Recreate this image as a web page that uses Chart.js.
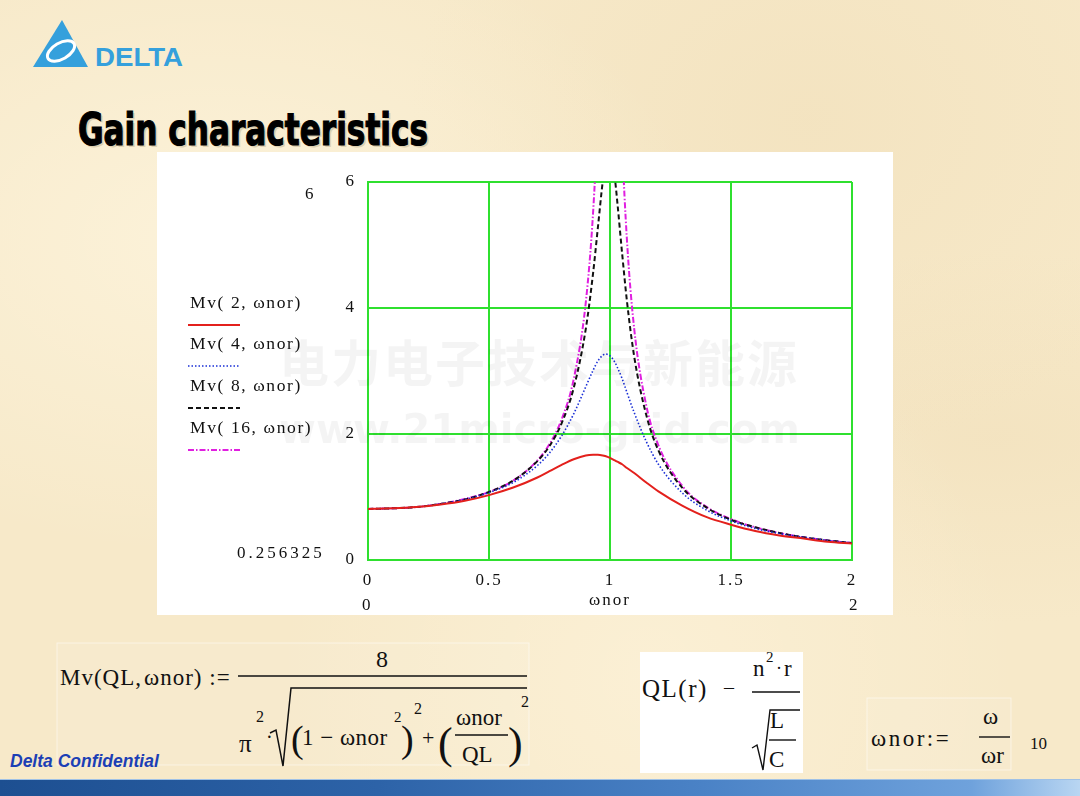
<!DOCTYPE html>
<html>
<head>
<meta charset="utf-8">
<script src="https://cdn.jsdelivr.net/npm/chart.js@4.4.1/dist/chart.umd.min.js"></script>
<style>
  html, body { margin: 0; padding: 0; }
  body {
    width: 1080px; height: 796px; position: relative; overflow: hidden;
    background-color: #f7e9c9;
    background-image:
      radial-gradient(ellipse at 20% 30%, rgba(255,248,228,0.6), rgba(255,248,228,0) 40%),
      radial-gradient(ellipse at 75% 15%, rgba(240,222,184,0.5), rgba(240,222,184,0) 35%),
      radial-gradient(ellipse at 60% 85%, rgba(255,246,224,0.5), rgba(255,246,224,0) 40%),
      radial-gradient(ellipse at 92% 55%, rgba(240,222,184,0.5), rgba(240,222,184,0) 30%);
    font-family: "Liberation Serif", serif;
  }
  #box { position: absolute; left: 157px; top: 152px; width: 736px; height: 463px; background: #fff; }
  #wrap { position: absolute; left: 0; top: 0; width: 736px; height: 463px; }
  .lbl { position: absolute; font-family: "Liberation Serif", serif; font-size: 17px; color: #111; white-space: nowrap; }
  .leg { letter-spacing: 1.6px; font-size: 17.5px; }
  .mark { position: absolute; pointer-events: none; font-weight: bold; color: rgba(0,0,0,0.045); white-space: nowrap; }
  #deco { position: absolute; left: 0; top: 0; }
  #bar { position: absolute; left: 0; top: 779px; width: 1080px; height: 17px;
    background: linear-gradient(90deg, #1d4f91 0%, #2d63a8 35%, #4a82c6 65%, #6fa2dc 90%, #b9d6f2 100%);
    border-top: 1px solid #9fc1e6; }
</style>
</head>
<body>
<svg id="deco" width="1080" height="796" xmlns="http://www.w3.org/2000/svg">
  <!-- logo -->
  <polygon points="62,20 33,67 88,67" fill="#35a0dc"/>
  <ellipse cx="61" cy="51" rx="15" ry="8" fill="none" stroke="#fff" stroke-width="3" transform="rotate(-30 61 51)"/>
  <text x="95" y="66" font-family="Liberation Sans, Arial" font-weight="bold" font-size="26" fill="#35a0dc" textLength="88" lengthAdjust="spacingAndGlyphs">DELTA</text>
  <!-- title -->
  <text x="80" y="147" font-family="Liberation Sans Narrow, DejaVu Sans Condensed, sans-serif" font-weight="bold" font-size="45" fill="#ddd0b0" textLength="350" lengthAdjust="spacingAndGlyphs">Gain characteristics</text>
  <text x="78" y="145" font-family="Liberation Sans Narrow, DejaVu Sans Condensed, sans-serif" font-weight="bold" font-size="45" fill="#000" stroke="#000" stroke-width="1.2" textLength="350" lengthAdjust="spacingAndGlyphs">Gain characteristics</text>

  <!-- formula 1 -->
  <rect x="57" y="643" width="472" height="122" fill="rgba(255,255,255,0.08)" stroke="rgba(255,255,255,0.5)" stroke-width="1"/>
  <g font-family="Liberation Serif, serif" fill="#111">
    <text x="60" y="685" font-size="23" style="letter-spacing:1px">Mv(QL,<tspan dx="2">ωnor)</tspan> :=</text>
    <text x="376" y="667" font-size="24">8</text>
    <line x1="238" y1="676" x2="527" y2="676" stroke="#111" stroke-width="1.6"/>
    <text x="239" y="752" font-size="25">π</text>
    <text x="256" y="722" font-size="16">2</text>
    <text x="266" y="744" font-size="20">·</text>
    <path d="M270 733 L276 730 L283 766 L291 688 L527 688" fill="none" stroke="#111" stroke-width="1.5"/>
    <text x="291" y="752" font-size="38">(</text>
    <text x="302" y="745" font-size="23" style="letter-spacing:0.5px">1 − ωnor</text>
    <text x="394" y="722" font-size="15">2</text>
    <text x="401" y="752" font-size="38">)</text>
    <text x="414" y="714" font-size="16">2</text>
    <text x="422" y="745" font-size="22">+</text>
    <text x="438" y="758" font-size="44">(</text>
    <text x="456" y="725" font-size="23">ωnor</text>
    <line x1="455" y1="735" x2="508" y2="735" stroke="#111" stroke-width="1.4"/>
    <text x="462" y="762" font-size="23">QL</text>
    <text x="508" y="758" font-size="44">)</text>
    <text x="521" y="707" font-size="16">2</text>
  </g>

  <!-- formula 2 -->
  <rect x="640" y="652" width="163" height="121" fill="#fff"/>
  <g font-family="Liberation Serif, serif" fill="#111">
    <text x="642" y="697" font-size="25" style="letter-spacing:1.5px">QL(r)</text>
    <text x="724" y="694" font-size="20">–</text>
    <text x="753" y="676" font-size="23">n</text>
    <text x="766" y="662" font-size="15">2</text>
    <text x="776" y="674" font-size="18">·</text>
    <text x="784" y="676" font-size="23">r</text>
    <line x1="752" y1="692" x2="800" y2="692" stroke="#111" stroke-width="1.5"/>
    <path d="M752 748 L757 745 L763 770 L770 710 L800 710" fill="none" stroke="#111" stroke-width="1.4"/>
    <text x="770" y="728" font-size="23">L</text>
    <line x1="769" y1="740" x2="796" y2="740" stroke="#111" stroke-width="1.4"/>
    <text x="769" y="767" font-size="23">C</text>
  </g>

  <!-- formula 3 -->
  <rect x="867" y="698" width="144" height="72" fill="rgba(255,255,255,0.08)" stroke="rgba(255,255,255,0.5)" stroke-width="1"/>
  <g font-family="Liberation Serif, serif" fill="#111">
    <text x="871" y="746" font-size="23" style="letter-spacing:2.5px">ωnor:=</text>
    <text x="983" y="724" font-size="23">ω</text>
    <line x1="979" y1="737" x2="1010" y2="737" stroke="#111" stroke-width="1.4"/>
    <text x="981" y="763" font-size="23">ωr</text>
    <text x="1030" y="749" font-size="17">10</text>
  </g>

  <text x="10" y="767" font-family="Liberation Sans, Arial, sans-serif" font-weight="bold" font-style="italic" font-size="17.5" fill="#1c3fb5">Delta Confidential</text>
</svg>

<div id="bar"></div>

<div id="box">
  <div id="wrap"><canvas id="gain"></canvas></div>

  <div class="lbl" style="left:148px; top:32px;">6</div>
  <div class="lbl" style="left:80px; top:391px; letter-spacing:3px;">0.256325</div>

  <div class="lbl leg" style="left:33px; top:140px;">Mv( 2, ωnor)</div>
  <svg style="position:absolute; left:31px; top:171px;" width="54" height="4"><line x1="0" y1="2" x2="52" y2="2" stroke="#e3201c" stroke-width="2"/></svg>
  <div class="lbl leg" style="left:33px; top:181px;">Mv( 4, ωnor)</div>
  <svg style="position:absolute; left:31px; top:212px;" width="54" height="4"><line x1="0" y1="2" x2="52" y2="2" stroke="#1a2fd6" stroke-width="1.6" stroke-dasharray="1.5 2"/></svg>
  <div class="lbl leg" style="left:33px; top:223px;">Mv( 8, ωnor)</div>
  <svg style="position:absolute; left:31px; top:254px;" width="54" height="4"><line x1="0" y1="2" x2="52" y2="2" stroke="#111" stroke-width="1.8" stroke-dasharray="5 3"/></svg>
  <div class="lbl leg" style="left:33px; top:265px;">Mv( 16, ωnor)</div>
  <svg style="position:absolute; left:31px; top:296px;" width="54" height="4"><line x1="0" y1="2" x2="52" y2="2" stroke="#e01fe0" stroke-width="1.8" stroke-dasharray="6 2 1.5 2"/></svg>

  <div class="lbl" style="left:205px; top:443px;">0</div>
  <div class="lbl" style="left:692px; top:443px;">2</div>

  <div class="mark" style="left:122px; top:172px; font-size:50px; font-family:'Noto Sans CJK SC', sans-serif; letter-spacing:2px;">电力电子技术与新能源</div>
  <div class="mark" style="left:122px; top:254px; font-size:40px; font-family:'DejaVu Sans', sans-serif; letter-spacing:0px;">www.21micro-grid.com</div>
</div>

<script>
// values (normalised frequency vs. gain)
var wnor = [0, 0.1, 0.2, 0.3, 0.4, 0.5, 0.6, 0.7, 0.75, 0.8, 0.85, 0.9, 0.93, 0.95, 0.97, 0.98,
            1.0, 1.02, 1.03, 1.05, 1.07, 1.1, 1.15, 1.2, 1.3, 1.4, 1.5, 1.6, 1.7, 1.8, 1.9, 2.0];
var mvQ2  = [0.81, 0.82, 0.84, 0.88, 0.94, 1.03, 1.15, 1.31, 1.41, 1.51, 1.60, 1.66, 1.67, 1.67, 1.66, 1.65,
             1.62, 1.58, 1.56, 1.52, 1.46, 1.38, 1.23, 1.09, 0.86, 0.68, 0.56, 0.46, 0.39, 0.34, 0.29, 0.26];
var mvQ4  = [0.81, 0.82, 0.84, 0.89, 0.96, 1.07, 1.23, 1.50, 1.70, 1.97, 2.32, 2.75, 3.01, 3.16, 3.25, 3.27,
             3.24, 3.14, 3.06, 2.88, 2.66, 2.34, 1.88, 1.52, 1.06, 0.79, 0.62, 0.50, 0.42, 0.36, 0.31, 0.27];
var mvQ8  = [0.81, 0.82, 0.84, 0.89, 0.96, 1.08, 1.26, 1.57, 1.81, 2.17, 2.73, 3.67, 4.55, 5.28, 6.01, 6.29,
             6.49, 6.06, 5.69, 4.87, 4.11, 3.23, 2.30, 1.74, 1.14, 0.83, 0.64, 0.52, 0.43, 0.36, 0.31, 0.27];
var mvQ16 = [0.81, 0.82, 0.84, 0.89, 0.97, 1.08, 1.26, 1.58, 1.84, 2.23, 2.87, 4.09, 5.51, 7.10, 9.57, 11.1,
             12.97, 10.75, 9.15, 6.66, 5.08, 3.67, 2.45, 1.82, 1.17, 0.84, 0.65, 0.52, 0.43, 0.36, 0.31, 0.27];
var xTicks = [0, 0.5, 1, 1.5, 2];
var yTicks = [0, 2, 4, 6];

function pts(ys) {
  return wnor.map(function(x, i){ return {x: x, y: ys[i]}; });
}

var green = '#2fe02f';
var serif = {family: 'Liberation Serif, serif', size: 17};

// Mathcad spaces its axis numbers out a bit
var spacing = {
  id: 'spacing',
  beforeDraw: function(chart){ chart.ctx.letterSpacing = '2px'; }
};

var ctx = document.getElementById('gain').getContext('2d');
new Chart(ctx, {
  type: 'line',
  data: {
    datasets: [
      {label: 'Mv(2, ωnor)', data: pts(mvQ2), borderColor: '#e3201c', borderWidth: 2},
      {label: 'Mv(4, ωnor)', data: pts(mvQ4), borderColor: '#1a2fd6', borderWidth: 1.6, borderDash: [1.5, 2]},
      {label: 'Mv(8, ωnor)', data: pts(mvQ8), borderColor: '#111111', borderWidth: 2, borderDash: [5, 3]},
      {label: 'Mv(16, ωnor)', data: pts(mvQ16), borderColor: '#e01fe0', borderWidth: 2, borderDash: [6, 2, 1.5, 2]}
    ]
  },
  plugins: [spacing],
  options: {
    responsive: true,
    maintainAspectRatio: false,
    animation: false,
    layout: {padding: {top: 30, right: 41, left: 0, bottom: 0}},
    elements: {
      point: {radius: 0},
      line: {cubicInterpolationMode: 'monotone', fill: false}
    },
    plugins: {legend: {display: false}, tooltip: {enabled: false}},
    scales: {
      x: {
        type: 'linear', min: 0, max: 2,
        afterBuildTicks: function(s){ s.ticks = xTicks.map(function(v){ return {value: v}; }); },
        afterFit: function(s){ s.height = 55; },
        grid: {color: green, lineWidth: 2, drawTicks: false},
        border: {color: green, width: 2},
        ticks: {color: '#111', font: serif, padding: 10, maxRotation: 0,
                callback: function(v){ return String(v); }},
        title: {display: true, text: 'ωnor', color: '#111', font: serif, padding: {top: 0}}
      },
      y: {
        min: 0, max: 6,
        afterBuildTicks: function(s){ s.ticks = yTicks.map(function(v){ return {value: v}; }); },
        afterFit: function(s){ s.width = 211; },
        grid: {color: green, lineWidth: 2, drawTicks: false},
        border: {color: green, width: 2},
        ticks: {color: '#111', font: serif, padding: 12,
                callback: function(v){ return String(v); }}
      }
    }
  }
});
</script>
</body>
</html>
